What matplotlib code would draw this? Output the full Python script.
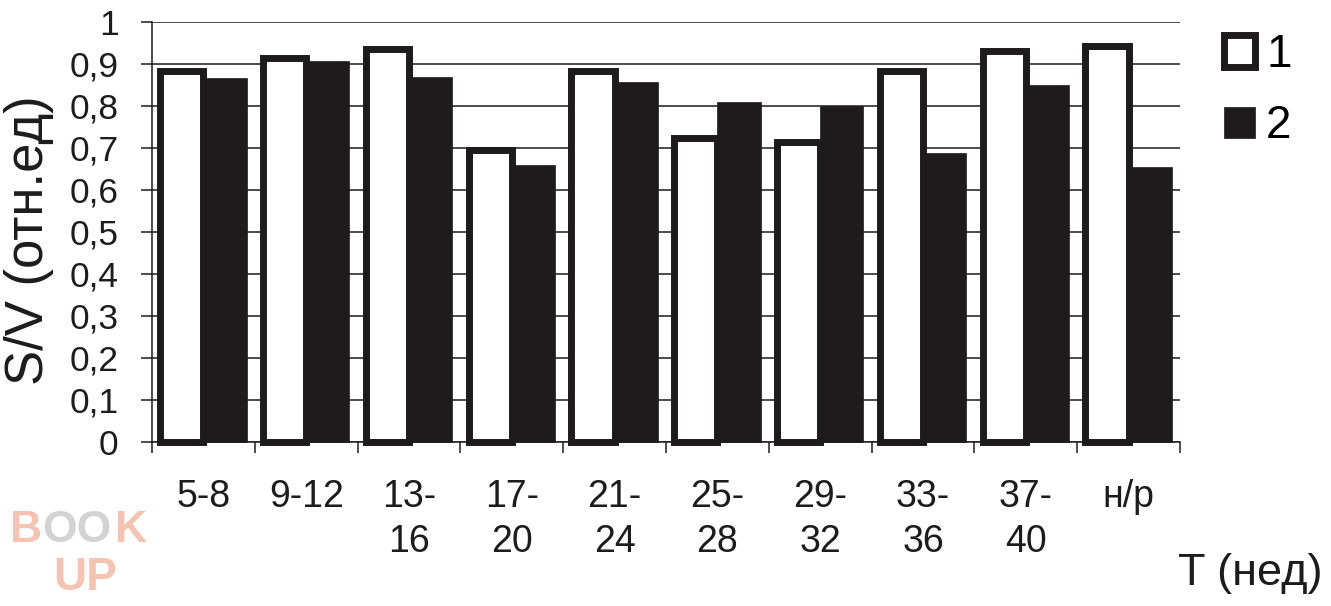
import matplotlib
matplotlib.use("Agg")
import matplotlib.pyplot as plt
import numpy as np

plt.rcParams['font.family'] = ['Liberation Sans', 'DejaVu Sans']

# data
categories = ['5-8', '9-12', '13-\n16', '17-\n20', '21-\n24', '25-\n28', '29-\n32', '33-\n36', '37-\n40', 'н/р']
series1 = [0.883, 0.914, 0.934, 0.694, 0.883, 0.723, 0.714, 0.883, 0.931, 0.941]
series2 = [0.867, 0.906, 0.869, 0.659, 0.857, 0.810, 0.800, 0.687, 0.849, 0.655]
yticks = [0, 0.1, 0.2, 0.3, 0.4, 0.5, 0.6, 0.7, 0.8, 0.9, 1]
ytick_labels = ['0', '0,1', '0,2', '0,3', '0,4', '0,5', '0,6', '0,7', '0,8', '0,9', '1']

ink = '#1e1b1c'

fig = plt.figure(figsize=(13.31, 6.06), dpi=100)
ax = fig.add_axes([152 / 1331, 1 - 441.7 / 606, (1180 - 152) / 1331, 420 / 606])

x = np.arange(len(categories))
w = 0.42
b1 = ax.bar(x - w / 2, series1, w, color='white', edgecolor=ink, linewidth=5,
            zorder=3, clip_on=False, label='1')
b2 = ax.bar(x + w / 2, series2, w, color=ink, edgecolor=ink, linewidth=0.5,
            zorder=2, clip_on=False, label='2')

ax.set_xlim(-0.5, len(categories) - 0.5)
ax.set_ylim(0, 1)

# y axis
ax.set_yticks(yticks)
ax.set_yticklabels(ytick_labels, fontsize=25.5)
ax.tick_params(axis='y', length=8, width=1.1, color=ink, pad=16, labelcolor=ink)
ax.grid(axis='y', color=ink, linewidth=1.1, zorder=0)
ax.set_axisbelow(True)

# x axis: ticks at group boundaries, labels at centres
ax.set_xticks(np.arange(len(categories) + 1) - 0.5)
ax.set_xticklabels([])
ax.set_xticks(x, minor=True)
ax.set_xticklabels(categories, minor=True, fontsize=27, linespacing=1.3, va='top')
ax.tick_params(axis='x', which='major', length=8, width=1.1, color=ink)
ax.tick_params(axis='x', which='minor', length=0, pad=27, labelcolor=ink)

for s in ['top', 'right']:
    ax.spines[s].set_visible(False)
ax.spines['left'].set_color(ink)
ax.spines['left'].set_linewidth(1.1)
ax.spines['bottom'].set_color(ink)
ax.spines['bottom'].set_linewidth(1.1)

fig.text(29 / 1331, 1 - 240 / 606, 'S/V (отн.ед)', rotation=90, fontsize=38,
         ha='center', va='center', color=ink)
fig.text(1250 / 1331, 1 - 573 / 606, 'T (нед)', fontsize=32.5,
         ha='center', va='center', color=ink)

ax.legend(handles=[b1, b2], labels=['1', '2'], loc='upper left',
          bbox_to_anchor=(1224 / 1331, 1 - 33 / 606), bbox_transform=fig.transFigure,
          frameon=False, fontsize=33, handlelength=0.67, handleheight=0.67,
          handletextpad=0.25, labelspacing=0.6, borderaxespad=0, borderpad=0)

# watermark
wm_kw = dict(fontsize=32, fontweight='bold', va='center', ha='left')
fig.text(10 / 1331, 1 - 531 / 606, 'B', color='#f4c3b1', **wm_kw)
fig.text(42 / 1331, 1 - 531 / 606, 'OO', color='#d3d3d3', **wm_kw)
fig.text(115 / 1331, 1 - 531 / 606, 'K', color='#f4c3b1', **wm_kw)
fig.text(85 / 1331, 1 - 578 / 606, 'UP', fontsize=33, fontweight='bold', color='#f4c3b1',
         ha='center', va='center')

fig.savefig('out.png', dpi=100)
